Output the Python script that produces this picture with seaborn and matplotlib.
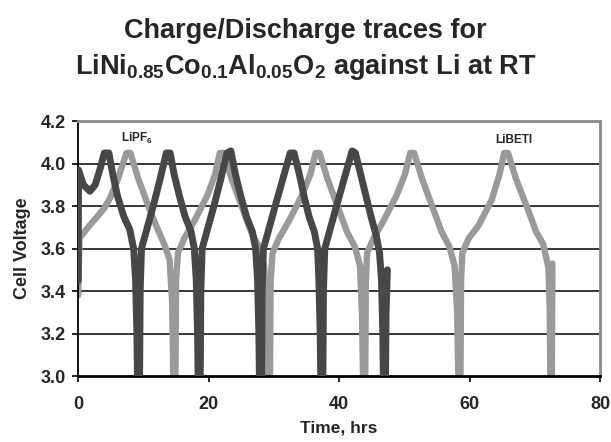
import numpy as np
import pandas as pd
import matplotlib
matplotlib.use('Agg')
import matplotlib.pyplot as plt
import seaborn as sns

# LiPF6 trace (dark), time in hrs / voltage in V
lipf6_time = [0.0, 0.05, 0.8, 1.8, 2.6, 3.4, 4.0, 4.7,
              5.3, 6.0, 7.0, 7.9, 8.5, 8.8, 9.0, 9.1,
              9.4, 9.5, 9.7, 10.6, 11.5, 12.5, 13.5, 14.1,
              14.7, 15.5, 16.4, 17.3, 17.8, 18.1, 18.3, 18.4,
              18.7, 18.8, 19.0, 19.9, 20.8, 21.8, 22.8, 23.4,
              24.1, 24.9, 25.8, 26.7, 27.2, 27.5, 27.7, 27.8,
              28.1, 28.2, 28.4, 29.3, 30.2, 31.3, 32.5, 33.1,
              33.9, 34.6, 35.4, 36.2, 36.7, 36.9, 37.1, 37.2,
              37.5, 37.6, 37.8, 38.7, 39.6, 40.7, 42.0, 42.5,
              43.3, 44.1, 44.9, 45.7, 46.2, 46.5, 46.7, 46.8,
              47.1, 47.2, 47.4]
lipf6_volt = [3.45, 3.97, 3.90, 3.87, 3.90, 3.98, 4.05, 4.05,
              3.95, 3.85, 3.75, 3.69, 3.60, 3.45, 3.20, 2.95,
              2.95, 3.40, 3.60, 3.70, 3.80, 3.92, 4.05, 4.05,
              3.95, 3.85, 3.75, 3.68, 3.60, 3.45, 3.20, 2.95,
              2.95, 3.40, 3.60, 3.70, 3.80, 3.92, 4.05, 4.06,
              3.95, 3.85, 3.75, 3.68, 3.60, 3.45, 3.20, 2.95,
              2.95, 3.40, 3.60, 3.70, 3.80, 3.92, 4.05, 4.05,
              3.95, 3.85, 3.75, 3.68, 3.60, 3.45, 3.20, 2.95,
              2.95, 3.40, 3.60, 3.70, 3.80, 3.92, 4.06, 4.05,
              3.95, 3.85, 3.75, 3.66, 3.58, 3.45, 3.20, 2.95,
              2.95, 3.30, 3.50]

# LiBETI trace (light)
libeti_time = [0.0, 0.2, 1.5, 2.9, 4.0, 4.9, 6.0, 7.4, 8.0,
               9.2, 11.0, 12.2, 13.2, 14.0, 14.4, 14.6,
               14.9, 15.0, 15.3, 16.3, 17.8, 19.8, 21.0, 21.7, 22.3,
               23.5, 25.3, 26.5, 27.7, 28.5, 28.9, 29.1,
               29.4, 29.5, 29.8, 30.8, 32.3, 34.3, 35.6, 36.4, 37.0,
               38.2, 40.0, 41.2, 42.4, 43.2, 43.5, 43.7,
               44.0, 44.1, 44.3, 45.3, 46.8, 48.8, 50.1, 50.9, 51.5,
               52.7, 54.5, 55.7, 56.9, 57.7, 58.1, 58.3,
               58.6, 58.7, 58.9, 59.9, 61.4, 63.4, 64.6, 65.3, 65.9,
               67.1, 69.0, 70.2, 71.3, 72.1, 72.3, 72.4,
               72.6, 72.7]
libeti_volt = [3.38, 3.65, 3.70, 3.75, 3.79, 3.84, 3.92, 4.05, 4.05,
               3.93, 3.78, 3.69, 3.62, 3.55, 3.35, 2.95,
               2.95, 3.45, 3.58, 3.65, 3.73, 3.85, 3.95, 4.05, 4.05,
               3.93, 3.78, 3.68, 3.61, 3.52, 3.30, 2.95,
               2.95, 3.45, 3.58, 3.65, 3.73, 3.85, 3.95, 4.05, 4.05,
               3.93, 3.78, 3.68, 3.61, 3.52, 3.30, 2.95,
               2.95, 3.45, 3.58, 3.65, 3.73, 3.85, 3.95, 4.05, 4.05,
               3.93, 3.78, 3.68, 3.61, 3.52, 3.30, 2.95,
               2.95, 3.45, 3.58, 3.65, 3.71, 3.83, 3.95, 4.05, 4.05,
               3.93, 3.78, 3.68, 3.62, 3.51, 3.30, 2.95,
               2.95, 3.53]

x_ticks = [0, 20, 40, 60, 80]
y_ticks = [3.0, 3.2, 3.4, 3.6, 3.8, 4.0, 4.2]

sns.set_theme(style='white')
plt.rcParams['font.family'] = ['Liberation Sans', 'DejaVu Sans']
plt.rcParams['mathtext.fontset'] = 'custom'
plt.rcParams['mathtext.rm'] = 'Liberation Sans:bold'
plt.rcParams['mathtext.default'] = 'rm'

fig = plt.figure(figsize=(6.11, 4.42), dpi=100)
ax = fig.add_axes([0.128, 0.149, 0.854, 0.577])

# 网格线
for y in y_ticks[1:-1]:
    ax.axhline(y, color='black', lw=1.1, zorder=1)

df_libeti = pd.DataFrame({'time': libeti_time, 'volt': libeti_volt})
df_lipf6 = pd.DataFrame({'time': lipf6_time, 'volt': lipf6_volt})

sns.lineplot(data=df_libeti, x='time', y='volt', sort=False, estimator=None,
             color='#9a9a9a', lw=4.6, ax=ax, zorder=2,
             solid_joinstyle='round', solid_capstyle='round')
sns.lineplot(data=df_lipf6, x='time', y='volt', sort=False, estimator=None,
             color='#474747', lw=5.0, ax=ax, zorder=3,
             solid_joinstyle='round', solid_capstyle='round')

ax.set_xlim(0, 80)
ax.set_ylim(3.0, 4.2)
ax.set_xticks(x_ticks)
ax.set_yticks(y_ticks)
ax.set_yticklabels(['%.1f' % v for v in y_ticks])

ax.text(9.0, 4.12, 'LiPF$_6$', fontsize=8.5, fontweight='bold', ha='center', va='center')
ax.text(66.8, 4.11, 'LiBETI', fontsize=8.5, fontweight='bold', ha='center', va='center')

for side in ['left', 'bottom']:
    ax.spines[side].set_color('black')
ax.spines['left'].set_linewidth(1.3)
ax.spines['bottom'].set_linewidth(2.0)
for side in ['top', 'right']:
    ax.spines[side].set_color('#8a8a8a')
    ax.spines[side].set_linewidth(2.0)

ax.tick_params(axis='both', direction='out', length=4, width=1.2, color='black',
               labelsize=13, bottom=True, left=True)
ax.tick_params(axis='x', pad=10)
ax.tick_params(axis='y', pad=5)
for lab in ax.get_xticklabels() + ax.get_yticklabels():
    lab.set_fontweight('bold')

ax.set_xlabel('Time, hrs', fontsize=12.5, fontweight='bold', labelpad=6)
ax.set_ylabel('Cell Voltage', fontsize=13, fontweight='bold', labelpad=7)

fig.text(0.5, 0.93, 'Charge/Discharge traces for', fontsize=19.5,
         fontweight='bold', ha='center', va='center')
fig.text(0.5, 0.848, 'LiNi$_{0.85}$Co$_{0.1}$Al$_{0.05}$O$_2$ against Li at RT',
         fontsize=19.5, fontweight='bold', ha='center', va='center')

plt.savefig('out.png', dpi=100)
